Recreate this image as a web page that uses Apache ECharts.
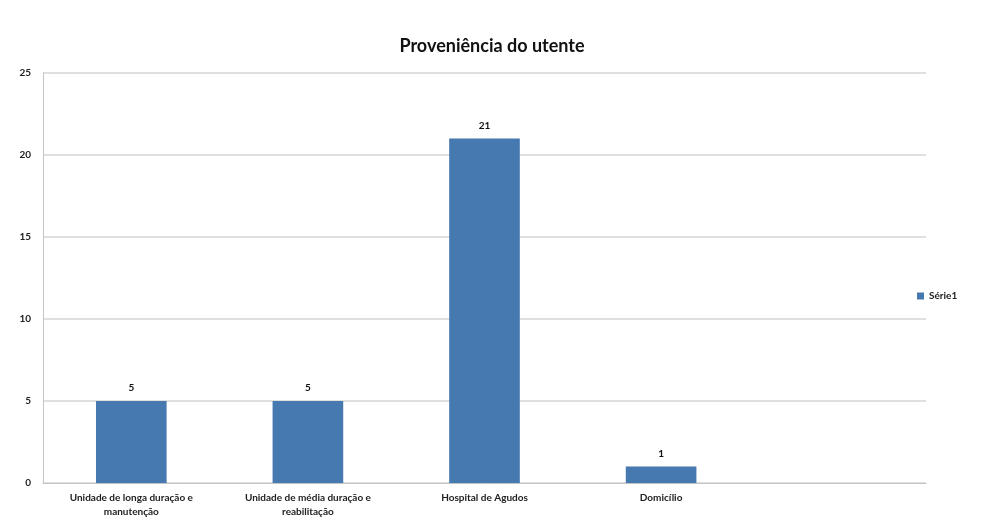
<!DOCTYPE html>
<html>
<head>
<meta charset="utf-8">
<script src="https://cdn.jsdelivr.net/npm/echarts@6/dist/echarts.min.js"></script>
<style>
  html, body { margin: 0; padding: 0; background: #fff; }
  #chart { width: 985px; height: 528px; }
</style>
</head>
<body>
<div id="chart"></div>
<script>
const categories = [
  "Unidade de longa duração e\nmanutenção",
  "Unidade de média duração e\nreabilitação",
  "Hospital de Agudos",
  "Domicílio",
  ""
];
const serie1 = [5, 5, 21, 1, null];
const yTicks = { min: 0, max: 25, interval: 5 };

const FONT = "Lato, 'Open Sans', sans-serif";
const chart = echarts.init(document.getElementById("chart"));

chart.setOption({
  animation: false,
  textStyle: { fontFamily: FONT },
  title: {
    text: "Proveniência do utente",
    left: 487,
    textAlign: "center",
    top: 32,
    textStyle: { fontSize: 18, fontWeight: "bold", color: "#111", fontFamily: FONT }
  },
  legend: {
    data: ["Série1"],
    left: 912,
    top: 286,
    orient: "vertical",
    itemWidth: 7,
    itemHeight: 7,
    itemGap: 4,
    icon: "rect",
    textStyle: { fontSize: 10, fontWeight: "bold", color: "#222", fontFamily: FONT }
  },
  grid: { left: 43, right: 59, top: 73, bottom: 45, containLabel: false },
  xAxis: {
    type: "category",
    data: categories,
    axisLine: { show: true, lineStyle: { color: "#c4c4c4" } },
    axisTick: { show: false },
    axisLabel: { fontSize: 10, color: "#222", interval: 0, lineHeight: 14, margin: 8, fontWeight: "bold" }
  },
  yAxis: {
    type: "value",
    min: yTicks.min,
    max: yTicks.max,
    interval: yTicks.interval,
    axisLine: { show: true, lineStyle: { color: "#c4c4c4" } },
    axisTick: { show: false },
    axisLabel: { fontSize: 10, color: "#222", margin: 12, fontWeight: "bold" },
    splitLine: { lineStyle: { color: "#d4d4d4", width: 1.5 } }
  },
  series: [{
    name: "Série1",
    type: "bar",
    data: serie1,
    barWidth: "40%",
    itemStyle: { color: "#4579B0" },
    label: { show: true, position: "top", fontSize: 10, fontWeight: "bold", color: "#111", distance: 8 }
  }]
});
</script>
</body>
</html>
